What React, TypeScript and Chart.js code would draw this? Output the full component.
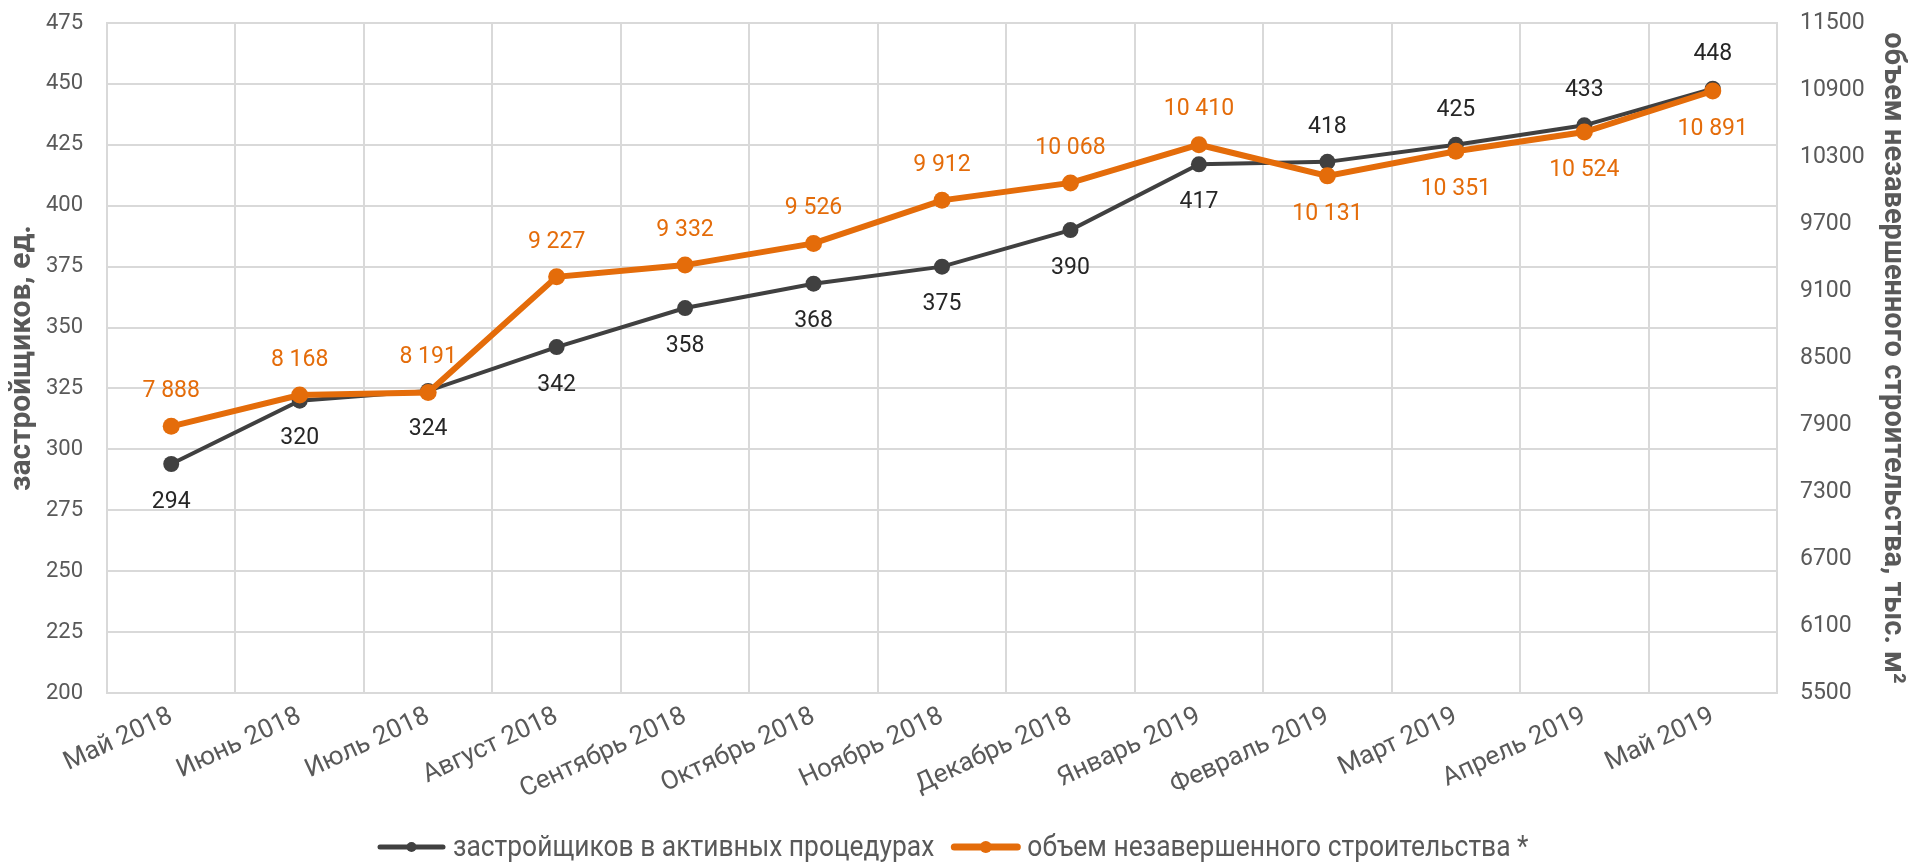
import React, { useEffect, useRef } from "react";
import { Chart, registerables } from "chart.js";

Chart.register(...registerables);

const categories = [
  "Май 2018", "Июнь 2018", "Июль 2018", "Август 2018", "Сентябрь 2018", "Октябрь 2018",
  "Ноябрь 2018", "Декабрь 2018", "Январь 2019", "Февраль 2019", "Март 2019", "Апрель 2019", "Май 2019",
];
const developers = [294, 320, 324, 342, 358, 368, 375, 390, 417, 418, 425, 433, 448];
const unfinishedVolume = [7888, 8168, 8191, 9227, 9332, 9526, 9912, 10068, 10410, 10131, 10351, 10524, 10891];
// label placement: true = above the point, false = below
const developersLabelAbove = [false, false, false, false, false, false, false, false, false, true, true, true, true];
const volumeLabelAbove = [true, true, true, true, true, true, true, true, true, false, false, false, false];

const leftAxisTitle = "застройщиков, ед.";
const rightAxisTitle = "объем незавершенного строительства, тыс. м²";
const seriesNames = ["застройщиков в активных процедурах", "объем незавершенного строительства *"];

const DARK = "#404040";
const ORANGE = "#E46C0A";
const GRID = "#D9D9D9";
const AXIS_TEXT = "#595959";
const FONT = "Roboto";

const fmt = (v: number) => String(v).replace(/\B(?=(\d{3})+(?!\d))/g, " ");

const dataLabelsPlugin = {
  id: "dataLabelsCustom",
  afterDatasetsDraw(chart: any) {
    const ctx = chart.ctx;
    ctx.save();
    ctx.font = `23px ${FONT}`;
    ctx.textAlign = "center";
    ctx.textBaseline = "middle";
    chart.data.datasets.forEach((ds: any, di: number) => {
      const meta = chart.getDatasetMeta(di);
      const above: boolean[] = ds.labelAbove;
      ctx.fillStyle = ds.labelColor;
      meta.data.forEach((pt: any, i: number) => {
        const y = above[i] ? pt.y - 35 : pt.y + 38;
        ctx.fillText(fmt(ds.data[i]), pt.x, y);
      });
    });
    ctx.restore();
  },
};

const legendPlugin = {
  id: "legendCustom",
  afterDraw(chart: any) {
    const ctx = chart.ctx;
    const items = [
      { text: seriesNames[0], color: DARK, lw: 5, r: 5 },
      { text: seriesNames[1], color: ORANGE, lw: 7, r: 6 },
    ];
    const sx = 0.88;
    const lineLen = 67;
    const gap = 8;
    const itemGap = 18;
    ctx.save();
    ctx.font = `30px ${FONT}`;
    const widths = items.map((it) => ctx.measureText(it.text).width * sx);
    let x = 378;
    const y = 847;
    items.forEach((it, i) => {
      ctx.strokeStyle = it.color;
      ctx.lineWidth = it.lw;
      ctx.lineCap = "round";
      ctx.beginPath();
      ctx.moveTo(x + 2, y);
      ctx.lineTo(x + lineLen - 2, y);
      ctx.stroke();
      ctx.fillStyle = it.color;
      ctx.beginPath();
      ctx.arc(x + lineLen / 2, y, it.r, 0, Math.PI * 2);
      ctx.fill();
      ctx.save();
      ctx.translate(x + lineLen + gap, y);
      ctx.scale(sx, 1);
      ctx.fillStyle = AXIS_TEXT;
      ctx.textAlign = "left";
      ctx.textBaseline = "middle";
      ctx.fillText(it.text, 0, 1);
      ctx.restore();
      x += lineLen + gap + widths[i] + itemGap;
    });
    ctx.restore();
  },
};

export default function App() {
  const ref = useRef<HTMLCanvasElement | null>(null);

  useEffect(() => {
    if (!ref.current) return;
    const chart = new Chart(ref.current, {
      type: "line",
      data: {
        labels: categories,
        datasets: [
          {
            label: seriesNames[1],
            data: unfinishedVolume,
            yAxisID: "y2",
            borderColor: ORANGE,
            backgroundColor: ORANGE,
            borderWidth: 6,
            pointRadius: 8.5,
            pointBackgroundColor: ORANGE,
            pointBorderWidth: 0,
            tension: 0,
            order: 0,
            labelAbove: volumeLabelAbove,
            labelColor: ORANGE,
          } as any,
          {
            label: seriesNames[0],
            data: developers,
            yAxisID: "y",
            borderColor: DARK,
            backgroundColor: DARK,
            borderWidth: 4,
            pointRadius: 8,
            pointBackgroundColor: DARK,
            pointBorderWidth: 0,
            tension: 0,
            order: 1,
            labelAbove: developersLabelAbove,
            labelColor: "#262626",
          } as any,
        ],
      },
      options: {
        responsive: false,
        animation: false,
        events: [],
        layout: { padding: { top: 23, left: 0, right: 0, bottom: 0 } },
        plugins: { legend: { display: false }, tooltip: { enabled: false }, title: { display: false } },
        scales: {
          x: {
            offset: true,
            grid: { offset: true, color: GRID, lineWidth: 2, drawTicks: false },
            border: { color: GRID, width: 2 },
            ticks: {
              autoSkip: false,
              minRotation: 25,
              maxRotation: 25,
              padding: 8,
              color: AXIS_TEXT,
              font: { family: FONT, size: 26 },
            },
            afterFit: (s: any) => {
              s.height = 171;
              s.paddingLeft = 0;
              s.paddingRight = 0;
            },
          },
          y: {
            position: "left",
            min: 200,
            max: 475,
            grid: { color: GRID, lineWidth: 2, drawTicks: false },
            border: { color: GRID, width: 2 },
            ticks: {
              stepSize: 25,
              padding: 24,
              color: AXIS_TEXT,
              font: { family: FONT, size: 22 },
            },
            title: {
              display: true,
              text: leftAxisTitle,
              color: AXIS_TEXT,
              font: { family: FONT, size: 30, weight: "bold" },
              padding: { top: 4, bottom: 0 },
            },
            afterFit: (s: any) => {
              s.width = 107;
              s.paddingTop = 0;
              s.paddingBottom = 0;
            },
          },
          y2: {
            position: "right",
            min: 5500,
            max: 11500,
            grid: { display: false, drawTicks: false },
            border: { color: GRID, width: 2 },
            ticks: {
              stepSize: 600,
              padding: 23,
              color: AXIS_TEXT,
              font: { family: FONT, size: 23 },
              callback: (v: any) => String(v),
            },
            title: {
              display: true,
              text: rightAxisTitle,
              color: AXIS_TEXT,
              font: { family: FONT, size: 29, weight: "bold" },
              padding: { top: 0, bottom: 0 },
            },
            afterFit: (s: any) => {
              s.width = 133;
              s.paddingTop = 0;
              s.paddingBottom = 0;
            },
          },
        },
      },
      plugins: [dataLabelsPlugin, legendPlugin],
    });
    return () => chart.destroy();
  }, []);

  return (
    <div style={{ position: "fixed", left: 0, top: 0, width: 1910, height: 864, background: "#fff" }}>
      <canvas ref={ref} width={1910} height={864} style={{ display: "block" }} />
    </div>
  );
}
